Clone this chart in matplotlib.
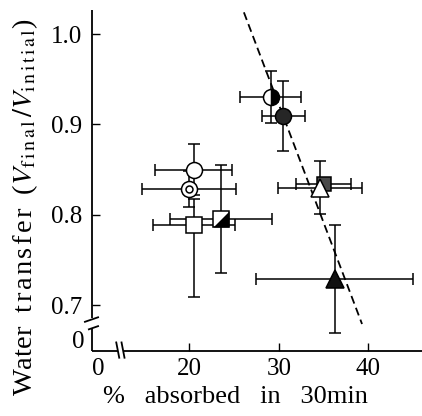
import matplotlib
matplotlib.use("Agg")
import matplotlib.pyplot as plt

plt.rcParams['font.family'] = ['Liberation Serif', 'DejaVu Serif']
plt.rcParams['mathtext.fontset'] = 'stix'

# data: (% absorbed, water transfer) with error bars
kinds   = ['half_circle', 'dark_circle', 'open_circle', 'double_circle',
           'open_square', 'half_square', 'dark_square', 'open_triangle', 'dark_triangle']
absorbed = [29.1, 30.5, 20.5, 19.95, 20.5, 23.5, 35.0, 34.6, 36.25]
transfer = [0.930, 0.909, 0.850, 0.828, 0.789, 0.795, 0.834, 0.830, 0.729]
x_err    = [3.4, 2.4, 4.3, 5.25, 4.6, 5.7, 3.1, 4.7, 8.75]
y_err_lo = [0.029, 0.039, 0.028, 0.020, 0.080, 0.060, 0.0, 0.029, 0.060]
y_err_hi = [0.029, 0.039, 0.028, 0.020, 0.028, 0.060, 0.0, 0.029, 0.060]

fit_x = [26.1, 39.3]
fit_y = [1.024, 0.679]

y_ticks = [0.7, 0.8, 0.9, 1.0]
x_ticks = [20, 30, 40]


def spaced(s):
    # slight letter spacing like the original typesetting
    return '\u200a'.join(s)


fig = plt.figure(figsize=(4.22, 4.16), dpi=100)
ax = fig.add_axes([0.218, 0.156, 0.782, 0.820])
ax.set_xlim(9.13, 46.0)
ax.set_ylim(0.649, 1.0266)

ax.plot(fit_x, fit_y, color='black', lw=1.3, dashes=(4.5, 2.5), zorder=1)

ax.errorbar(absorbed, transfer, xerr=x_err, yerr=[y_err_lo, y_err_hi],
            fmt='none', ecolor='black', elinewidth=1.1, capsize=4.5, capthick=1.1, zorder=2)

ms = 11.5
mew = 1.1
half_tri = [(-1, -1), (1, -1), (1, 1), (-1, -1)]
for k, x, y in zip(kinds, absorbed, transfer):
    if k == 'half_circle':
        ax.plot(x, y, 'o', ms=ms, mew=mew, mec='black', mfc='black',
                fillstyle='right', markerfacecoloralt='white', zorder=3)
    elif k == 'dark_circle':
        ax.plot(x, y, 'o', ms=ms, mew=mew, mec='black', mfc='#262626', zorder=3)
    elif k == 'open_circle':
        ax.plot(x, y, 'o', ms=ms, mew=mew, mec='black', mfc='white', zorder=3)
    elif k == 'double_circle':
        ax.plot(x, y, 'o', ms=ms, mew=mew, mec='black', mfc='white', zorder=3)
        ax.plot(x, y, 'o', ms=5, mew=mew, mec='black', mfc='white', zorder=4)
    elif k == 'open_square':
        ax.plot(x, y, 's', ms=ms, mew=mew, mec='black', mfc='white', zorder=3)
    elif k == 'half_square':
        ax.plot(x, y, 's', ms=ms, mew=mew, mec='black', mfc='white', zorder=3)
        ax.plot(x, y, marker=half_tri, ms=ms, mew=0, mfc='black', ls='none', zorder=4)
    elif k == 'dark_square':
        ax.plot(x, y, 's', ms=ms - 1, mew=mew, mec='black', mfc='#4a4a4a', zorder=3)
    elif k == 'open_triangle':
        ax.plot(x, y, '^', ms=ms + 1, mew=mew, mec='black', mfc='white', zorder=5)
    elif k == 'dark_triangle':
        ax.plot(x, y, '^', ms=ms + 1, mew=mew, mec='black', mfc='#111111', zorder=5)

# axes with breaks drawn by hand
for s in ax.spines.values():
    s.set_visible(False)
kw = dict(color='black', lw=1.3, transform=ax.transAxes, clip_on=False, solid_capstyle='butt')
ax.plot([0, 0], [0.097, 1.0], **kw)
ax.plot([0, 0], [0.0, 0.068], **kw)
ax.plot([0, 0.079], [0, 0], **kw)
ax.plot([0.097, 1.0], [0, 0], **kw)
ax.plot([-0.024, 0.021], [0.085, 0.100], **kw)
ax.plot([-0.012, 0.021], [0.063, 0.074], **kw)
ax.plot([0.073, 0.083], [0.028, -0.022], **kw)
ax.plot([0.089, 0.099], [0.028, -0.022], **kw)

ax.set_yticks(y_ticks)
ax.set_yticklabels(['0.7', '0.8', '0.9', '1.0'])
ax.set_xticks(x_ticks)
ax.set_xticklabels(['20', '30', '40'])
ax.tick_params(axis='both', direction='in', length=6, width=1.0, labelsize=18)
ax.tick_params(axis='y', pad=7)
ax.tick_params(axis='x', pad=5)

ax.text(-0.042, 0.026, '0', transform=ax.transAxes, ha='center', va='center', fontsize=18)
ax.text(0.018, -0.052, '0', transform=ax.transAxes, ha='center', va='center', fontsize=18)

ylab = ('Water  ' + spaced('transfer') + '  (' +
        r'$V_{\rm f\,i\,n\,a\,l}\,/V_{\rm i\,n\,i\,t\,i\,a\,l}$' + ')')
fig.text(25 / 422, 1 - 207 / 416, ylab,
         rotation=90, ha='center', va='center', fontsize=20.5)
xlab = '%   absorbed   in   30min'
fig.text(235 / 422, 1 - 397 / 416, xlab,
         ha='center', va='center', fontsize=19)

fig.savefig('out.png', dpi=100)
